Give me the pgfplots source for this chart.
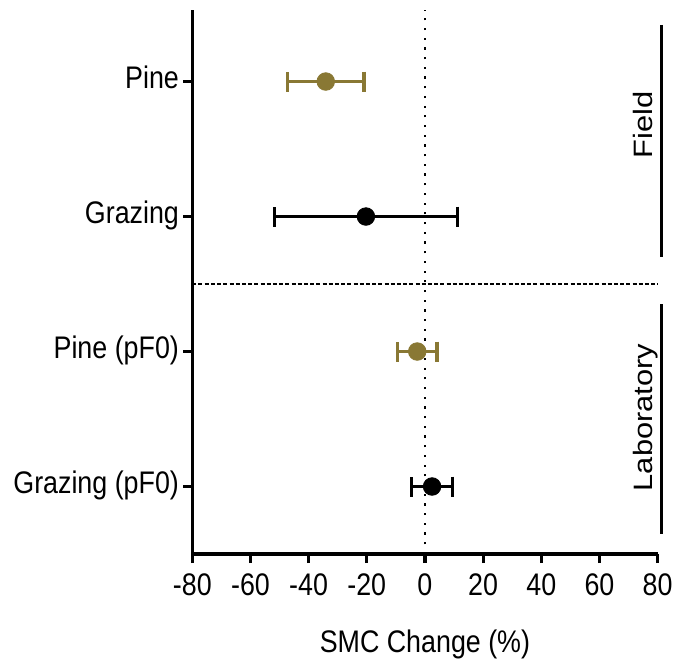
\documentclass[border=0pt]{standalone}
\usepackage{fontspec}
\setmainfont{Liberation Sans}[FakeStretch=0.86]
\newfontfamily\vfont{Liberation Sans}[FakeStretch=1.16]
\usepackage{pgfplots}
\pgfplotsset{compat=1.18}
\definecolor{olive}{RGB}{137,120,52}
\newcommand{\hfsz}{\fontsize{15.6}{18}\selectfont}
\begin{document}
\begin{tikzpicture}
\begin{axis}[
  scale only axis,
  width=232.65pt, height=272pt,
  xmin=-80, xmax=80, ymin=0.5, ymax=4.53,
  axis lines=left,
  axis line style={-, line width=1.6pt},
  clip=false,
  xtick={-80,-60,...,80},
  ytick={1,2,3,4},
  yticklabels={Grazing (pF0),Pine (pF0),Grazing,Pine},
  tick align=outside,
  major tick length=4.5pt,
  tick style={line width=1.6pt, black},
  /pgf/number format/assume math mode=true,
  ticklabel style={font=\hfsz},
  yticklabel style={inner xsep=2pt, text height=0.716em, text depth=0pt},
  xticklabel style={inner ysep=5pt},
  xlabel={SMC Change (\%)},
  xlabel style={font=\hfsz, at={(axis description cs:0.5,0)}, anchor=north, yshift=-34.5pt},
]
% reference lines
\addplot[black, line width=1.4pt, dash pattern=on 1.1pt off 3.75pt] coordinates {(0,0.5) (0,4.53)};
\addplot[black, line width=0.85pt, dash pattern=on 2pt off 1.1pt] coordinates {(-80,2.5) (80,2.5)};
% data
\addplot[olive, only marks, mark=*, mark size=4.4pt,
  error bars/.cd, x dir=both, x explicit,
  error bar style={line width=1.7pt, olive},
  error mark options={line width=1.7pt, mark size=5pt, olive, rotate=90}]
  coordinates {(-34.1,4) +- (13.2,0) (-2.65,2) +- (6.85,0)};
\addplot[black, only marks, mark=*, mark size=4.4pt,
  error bars/.cd, x dir=both, x explicit,
  error bar style={line width=1.7pt, black},
  error mark options={line width=1.7pt, mark size=5pt, black, rotate=90}]
  coordinates {(-20.3,3) +- (31.4,0) (2.45,1) +- (7.05,0)};
% group brackets
\draw[line width=1.6pt] (axis cs:81.4,4.42) -- (axis cs:81.4,2.703);
\draw[line width=1.6pt] (axis cs:81.4,2.349) -- (axis cs:81.4,0.647);
\node[rotate=90, anchor=base, inner sep=0pt, font=\vfont\fontsize{13.3}{15}\selectfont] at (axis cs:78.4,3.678) {Field};
\node[rotate=90, anchor=base, inner sep=0pt, font=\vfont\fontsize{13.3}{15}\selectfont] at (axis cs:78.4,1.511) {Laboratory};
\end{axis}
\pgfresetboundingbox
\useasboundingbox ([xshift=-96.15pt,yshift=-57.5pt]current axis.south west) rectangle ([xshift=15.2pt,yshift=5pt]current axis.north east);
\end{tikzpicture}
\end{document}
